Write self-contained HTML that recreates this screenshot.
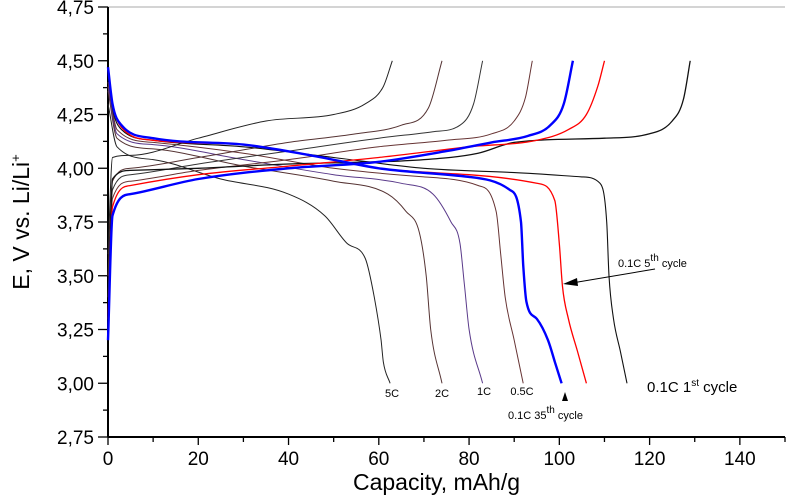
<!DOCTYPE html>
<html><head><meta charset="utf-8"><style>
body{margin:0;background:#fff;}
svg{display:block;font-family:"Liberation Sans",sans-serif;}
</style></head><body>
<svg id="c" width="787" height="501"></svg>
<script>
const xTicks=[0,20,40,60,80,100,120,140];
const yTicks=[2.75,3.00,3.25,3.50,3.75,4.00,4.25,4.50,4.75];
const yTickLabels=["2,75","3,00","3,25","3,50","3,75","4,00","4,25","4,50","4,75"];
// discharge curves [capacity, voltage]
const d1st=[[0,4.45],[1,4.28],[3,4.18],[10,4.13],[30,4.1],[50,4.05],[70,4.0],[90,3.98],[105,3.96],[109,3.93],[110.5,3.75],[111,3.5],[112,3.3],[113.5,3.15],[115,3.0]];
const d5th=[[0,4.46],[1,4.3],[3,4.19],[10,4.13],[30,4.11],[45,4.06],[60,4.0],[80,3.97],[95,3.93],[99,3.85],[100,3.65],[100.7,3.45],[102,3.3],[104,3.15],[106,3.0]];
const d35th=[[0,4.47],[1,4.3],[3,4.2],[10,4.14],[30,4.11],[45,4.06],[60,4.0],[80,3.96],[89,3.9],[91.5,3.75],[92,3.55],[92.7,3.38],[95,3.3],[97.5,3.2],[99,3.1],[100.5,3.0]];
const dHalfC=[[0,4.4],[2,4.18],[10,4.12],[30,4.07],[50,4.0],[70,3.96],[82,3.92],[86,3.8],[87,3.6],[88,3.4],[90,3.2],[92,3.0]];
const d1C=[[0,4.38],[2,4.16],[10,4.11],[30,4.04],[50,3.97],[65,3.93],[72,3.88],[76,3.75],[78,3.65],[79,3.45],[80,3.25],[83,3.0]];
const d2C=[[0,4.36],[2,4.14],[10,4.09],[30,4.01],[50,3.94],[62,3.88],[66,3.8],[69,3.7],[70.5,3.5],[71.5,3.25],[74,3.0]];
const d5C=[[0,4.3],[2,4.1],[10,4.04],[25,3.95],[40,3.88],[48,3.78],[53,3.65],[57,3.58],[59,3.4],[60.5,3.2],[61,3.1],[62.5,3.0]];
// charge curves
const c1st=[[0,3.2],[1,3.95],[5,3.99],[20,4.0],[40,4.02],[70,4.04],[82,4.07],[90,4.12],[110,4.14],[120,4.16],[125,4.22],[127.5,4.32],[129,4.5]];
const c5th=[[0,3.3],[1,3.82],[5,3.92],[20,3.97],[40,4.01],[60,4.05],[80,4.1],[95,4.13],[102,4.18],[106,4.25],[108.5,4.38],[110,4.5]];
const c35th=[[0,3.2],[1,3.78],[5,3.88],[20,3.95],[40,4.0],[60,4.03],[75,4.08],[85,4.12],[93,4.15],[98,4.2],[101,4.3],[103,4.5]];
const cHalfC=[[0,3.3],[1,3.86],[5,3.94],[20,3.99],[40,4.04],[60,4.1],[75,4.13],[85,4.16],[90,4.22],[92.5,4.33],[94,4.5]];
const c1C=[[0,3.4],[1,3.9],[5,3.97],[20,4.02],[40,4.08],[60,4.14],[72,4.17],[78,4.2],[81,4.3],[83,4.5]];
const c2C=[[0,3.5],[1,3.94],[5,4.0],[20,4.05],[40,4.12],[55,4.16],[65,4.2],[71,4.28],[74,4.5]];
const c5C=[[0,3.6],[1,4.05],[5,4.06],[20,4.14],[35,4.22],[50,4.25],[57,4.3],[61,4.38],[63,4.5]];

const X0=108,X1=785,Y0=437,Y1=7,XMIN=0,XMAX=150,YMIN=2.75,YMAX=4.75;
const sx=v=>X0+(v-XMIN)/(XMAX-XMIN)*(X1-X0);
const sy=v=>Y0-(v-YMIN)/(YMAX-YMIN)*(Y0-Y1);
const svg=document.getElementById('c');
const NS='http://www.w3.org/2000/svg';
function mk(t,a,parent){const e=document.createElementNS(NS,t);for(const k in a)e.setAttribute(k,a[k]);(parent||svg).appendChild(e);return e;}
// monotone cubic (Fritsch-Carlson) in data space, drawn as Bezier in pixel space
function pathFrom(pts){
  const n=pts.length,xs=pts.map(p=>p[0]),ys=pts.map(p=>p[1]);
  const dk=[],m=[];
  for(let i=0;i<n-1;i++)dk.push((ys[i+1]-ys[i])/(xs[i+1]-xs[i]));
  m[0]=dk[0];m[n-1]=dk[n-2];
  for(let i=1;i<n-1;i++){m[i]=(dk[i-1]*dk[i]<=0)?0:(dk[i-1]+dk[i])/2;}
  for(let i=0;i<n-1;i++){
    if(dk[i]===0){m[i]=0;m[i+1]=0;continue;}
    const a=m[i]/dk[i],b=m[i+1]/dk[i],s=a*a+b*b;
    if(s>9){const t=3/Math.sqrt(s);m[i]=t*a*dk[i];m[i+1]=t*b*dk[i];}
  }
  let d='M'+sx(xs[0]).toFixed(1)+','+sy(ys[0]).toFixed(1);
  for(let i=0;i<n-1;i++){
    const h=xs[i+1]-xs[i];
    d+='C'+sx(xs[i]+h/3).toFixed(1)+','+sy(ys[i]+m[i]*h/3).toFixed(1)+' '+
      sx(xs[i+1]-h/3).toFixed(1)+','+sy(ys[i+1]-m[i+1]*h/3).toFixed(1)+' '+
      sx(xs[i+1]).toFixed(1)+','+sy(ys[i+1]).toFixed(1);
  }
  return d;
}
// frame
let e=mk('line',{x1:X0,y1:Y1,x2:X1,y2:Y1,stroke:'#aaa','stroke-width':1});

e=mk('line',{x1:X0,y1:Y1,x2:X0,y2:Y0,stroke:'#000','stroke-width':2});

e=mk('line',{x1:X0,y1:Y0,x2:X1,y2:Y0,stroke:'#000','stroke-width':2});

for(let v=0;v<=150;v+=10){
  const major=v%20===0;
  e=mk('line',{x1:sx(v),y1:Y0,x2:sx(v),y2:Y0+(major?8:5),stroke:'#000','stroke-width':1.3});
  
}
xTicks.forEach(v=>{
  e=mk('text',{x:sx(v),y:Y0+28,'font-size':19,'text-anchor':'middle'});e.textContent=v;
  
});
for(let v=2.75;v<=4.751;v+=0.125){
  const major=Math.abs((v-2.75)/0.25-Math.round((v-2.75)/0.25))<0.01;
  e=mk('line',{x1:X0-(major?10:5),y1:sy(v),x2:X0,y2:sy(v),stroke:'#000','stroke-width':1.3});
  
}
yTicks.forEach((v,i)=>{
  e=mk('text',{x:X0-14,y:sy(v)+7,'font-size':19,'text-anchor':'end'});e.textContent=yTickLabels[i];
  
});
e=mk('text',{x:X0+(X1-X0)/2-10,y:490,'font-size':23,'text-anchor':'middle'});e.textContent='Capacity, mAh/g';

e=mk('text',{x:0,y:0,'font-size':23,'text-anchor':'middle',transform:'translate(29,222) rotate(-90)'});
e.innerHTML='E, V vs. Li/Li<tspan dy="-9" font-size="13">+</tspan>';

const series=[
 [d5C,'#222',1,'discharge-5c'],[d2C,'#553333',1,'discharge-2c'],[d1C,'#5a3a8a',1,'discharge-1c'],[dHalfC,'#663333',1,'discharge-0-5c'],
 [c5C,'#222',1,'charge-5c'],[c2C,'#553333',1,'charge-2c'],[c1C,'#333',1,'charge-1c'],[cHalfC,'#663333',1,'charge-0-5c'],
 [d1st,'#111',1.1,'discharge-0-1c-1st'],[c1st,'#111',1.3,'charge-0-1c-1st'],
 [d5th,'#ff0000',1.3,'discharge-0-1c-5th'],[c5th,'#ff0000',1.3,'charge-0-1c-5th'],
 [d35th,'#0000ff',2.4,'discharge-0-1c-35th'],[c35th,'#0000ff',2.4,'charge-0-1c-35th']
];
series.forEach(s=>{
  e=mk('path',{d:pathFrom(s[0]),fill:'none',stroke:s[1],'stroke-width':s[2]});
  
});
const lab=[[392,397,'5C'],[442,397,'2C'],[484,395,'1C'],[522,395,'0.5C']];
lab.forEach(l=>{e=mk('text',{x:l[0],y:l[1],'font-size':11,'text-anchor':'middle'});e.textContent=l[2];
  });
e=mk('text',{x:647,y:392,'font-size':15});e.innerHTML='0.1C 1<tspan dy="-6" font-size="10">st</tspan><tspan dy="6"> cycle</tspan>';

e=mk('text',{x:508,y:419,'font-size':11});e.innerHTML='0.1C 35<tspan dy="-6" font-size="10">th</tspan><tspan dy="6"> cycle</tspan>';

e=mk('text',{x:618,y:267,'font-size':11});e.innerHTML='0.1C 5<tspan dy="-6" font-size="10">th</tspan><tspan dy="6"> cycle</tspan>';

e=mk('line',{x1:655,y1:269,x2:572,y2:283,stroke:'#000','stroke-width':1});

e=mk('polygon',{points:'563,284 577,278 578,286',fill:'#000'});

e=mk('polygon',{points:'565,392 562,401 568,401',fill:'#000'});

</script>
</body></html>
